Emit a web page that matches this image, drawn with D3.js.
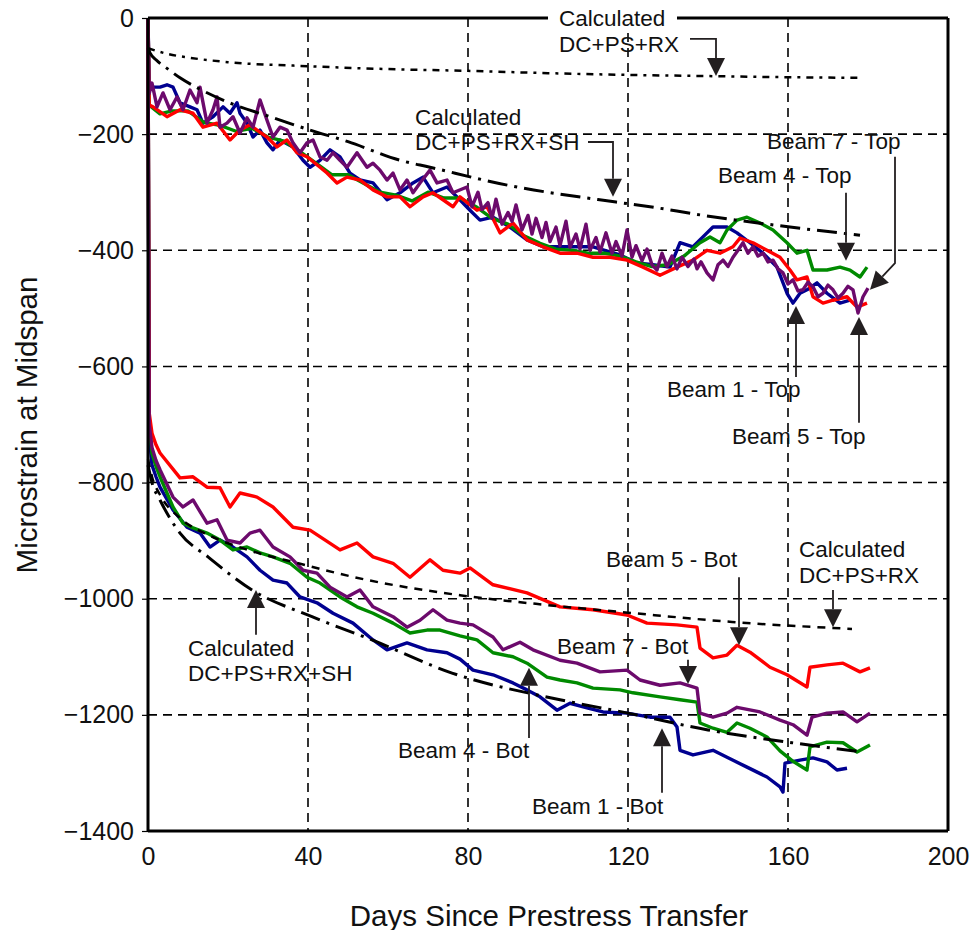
<!DOCTYPE html>
<html><head><meta charset="utf-8">
<script src="https://cdn.jsdelivr.net/npm/d3@7"></script>
<style>body{margin:0;background:#fff}svg{display:block}text{font-family:"Liberation Sans",Arial,sans-serif;fill:#111}</style>
</head><body><svg id="c" width="977" height="930"></svg>
<script>
// ---------- DATA (day, microstrain) ----------
const xTicks = [0, 40, 80, 120, 160, 200];
const yTicks = [0, -200, -400, -600, -800, -1000, -1200, -1400];

const beam1Top = [[0,0],[0.3,-125],[1.25,-119],[3,-119],[4.75,-115],[6.25,-119],[8,-146],[10.5,-153],[12.25,-158],[13.75,-181],[16.25,-170],[18.75,-153],[20.5,-164],[22.25,-146],[23,-164],[24.75,-181],[26.25,-205],[28,-193],[29.75,-215],[31.25,-227],[33,-210],[36.25,-222],[38.75,-245],[40.5,-257],[43,-245],[45.5,-227],[48,-239],[50.5,-267],[53,-279],[56.25,-284],[59.75,-313],[63,-301],[66.25,-284],[68.75,-274],[71.25,-301],[74.75,-291],[77.25,-308],[80.5,-331],[83,-348],[86.25,-343],[90.5,-360],[94.75,-382],[98.75,-394],[103,-394],[107.25,-394],[111.25,-394],[118,-408],[122.25,-422],[126.25,-425],[130.5,-429],[133,-387],[136.25,-394],[139.75,-370],[141.25,-360],[144.75,-360],[147.25,-370],[150.5,-387],[153.75,-405],[157.25,-429],[159.75,-474],[161.25,-491],[163,-474],[164.75,-468],[167.25,-456],[169.75,-474],[173,-491],[175.5,-486]];
const beam4Top = [[0,0],[0.3,-150],[3,-165],[6,-160],[10,-160],[14,-180],[18,-185],[22,-195],[26,-190],[30,-205],[34,-212],[38,-230],[42,-250],[46,-270],[50,-270],[54,-285],[58,-300],[62,-305],[66,-315],[70,-300],[74,-310],[78,-310],[82,-325],[86,-345],[90,-355],[94,-375],[98,-388],[102,-398],[106,-400],[110,-405],[114,-405],[118,-410],[122,-420],[126,-428],[130,-425],[134,-410],[138,-387],[140.5,-377],[143,-387],[144.75,-365],[147.25,-348],[149.75,-343],[153,-353],[156.25,-365],[159.75,-387],[162.25,-405],[164.75,-400],[166.25,-434],[169.75,-434],[173,-429],[175.5,-434],[178,-446],[179.75,-429]];
const beam5Top = [[0,0],[0.3,-150],[1.25,-153],[4.75,-170],[8,-158],[11.25,-164],[13.75,-188],[17.25,-181],[20.5,-210],[23,-193],[25.5,-184],[27.25,-193],[29.75,-205],[32.25,-222],[34.75,-210],[37.25,-232],[39.75,-239],[43,-257],[44.75,-267],[47.25,-284],[49.75,-274],[53,-279],[56.25,-296],[59.75,-308],[63,-308],[65.5,-325],[68.75,-308],[71.25,-301],[73.75,-313],[76.25,-325],[78,-308],[82.25,-331],[84.75,-325],[88,-370],[91.25,-353],[94.75,-382],[98.75,-394],[103,-405],[107.25,-405],[111.25,-412],[115.5,-412],[119.75,-417],[123.75,-429],[128,-443],[132.25,-429],[136.25,-417],[139.75,-400],[143,-405],[146.25,-394],[148,-379],[151.25,-387],[154.75,-400],[158,-412],[160.5,-434],[162.25,-451],[164.75,-446],[166.25,-480],[168.75,-491],[171.25,-486],[174.75,-480],[177.25,-498],[179.75,-491]];
const beam7Top = [[0,0],[0.3,-130],[1,-112],[2.25,-153],[3.75,-129],[5.5,-158],[7.25,-136],[8.75,-158],[10.5,-124],[12.25,-146],[13,-119],[14.75,-181],[16.25,-158],[17.25,-136],[18,-188],[19.75,-181],[21.25,-170],[23,-198],[24.75,-172],[26.25,-188],[28,-141],[29.75,-176],[31.25,-205],[33,-188],[34.75,-193],[36.25,-215],[38,-232],[39.75,-215],[41.25,-210],[43,-239],[44.75,-245],[46.25,-232],[48,-245],[49.75,-257],[52.25,-232],[54.75,-257],[56.25,-250],[58,-262],[59.75,-279],[61.25,-267],[63,-296],[64.75,-279],[66.25,-301],[68,-284],[70.5,-262],[72.25,-284],[74.75,-279],[76.25,-301],[79.75,-291],[81,-325],[82.5,-300],[83.5,-330],[85,-318],[86,-345],[87,-312],[88.5,-355],[90,-335],[91,-350],[92,-322],[93.5,-365],[95,-340],[96,-372],[97,-345],[98.5,-378],[99.5,-352],[100.5,-385],[102,-360],[103,-392],[104.5,-350],[105.5,-395],[107,-372],[108,-398],[109.5,-355],[110.5,-400],[112,-378],[113,-403],[114.5,-370],[116,-405],[117,-385],[118.5,-410],[119.75,-365],[121,-412],[122,-392],[123.5,-418],[124.75,-398],[126,-425],[127.25,-434],[128.5,-405],[129.75,-428],[131,-410],[132.25,-432],[133.5,-412],[135,-428],[136.5,-415],[137.25,-432],[138.25,-420],[139.75,-439],[141.25,-451],[142.5,-425],[143.75,-417],[145,-428],[146.25,-412],[147.5,-400],[148.75,-387],[150,-405],[151.25,-394],[152.5,-410],[153.75,-405],[155,-420],[156.25,-417],[157.5,-432],[158.75,-439],[160,-458],[161.25,-451],[162.5,-470],[163.75,-468],[165,-455],[166.25,-463],[167.5,-480],[168.75,-474],[170,-460],[171.25,-468],[172.5,-482],[173.75,-474],[175,-462],[176.25,-468],[177.5,-508],[178.75,-480],[180,-465]];

const beam1Bot = [[0,0],[0.3,-720],[1,-770],[2,-790],[3,-808],[6.25,-847],[9.75,-877],[13,-887],[15.5,-911],[18,-899],[21.25,-911],[24.75,-928],[28,-951],[31.25,-968],[34.75,-973],[38,-997],[42.25,-1007],[46.25,-1025],[51.25,-1042],[56.25,-1071],[59.75,-1088],[64.75,-1076],[69.75,-1088],[74.75,-1093],[78,-1104],[81.25,-1123],[86.25,-1131],[91.25,-1145],[94.75,-1157],[98,-1169],[102.25,-1192],[105.5,-1180],[109.75,-1188],[113.75,-1195],[119.75,-1197],[125.5,-1204],[130.5,-1204],[132.25,-1221],[133,-1261],[136.25,-1269],[141.25,-1261],[144.75,-1273],[149.75,-1290],[154.75,-1307],[158,-1324],[158.75,-1333],[159.25,-1283],[163,-1278],[166.25,-1274],[169.75,-1281],[172.25,-1295],[174.75,-1292]];
const beam4Bot = [[0,0],[0.3,-700],[1,-750],[2,-772],[3,-790],[6.25,-842],[8.75,-870],[11.25,-878],[14.75,-887],[18,-899],[21.25,-916],[24.75,-911],[28,-921],[31.25,-928],[35.5,-939],[39.75,-963],[43,-973],[48,-997],[52.25,-1014],[56.25,-1025],[61.25,-1042],[65.5,-1059],[69.75,-1054],[73,-1054],[78,-1064],[82.25,-1071],[86.25,-1093],[91.25,-1100],[94.75,-1111],[99.75,-1135],[103,-1140],[107.25,-1145],[111.25,-1154],[118,-1157],[121.25,-1162],[128,-1169],[133,-1174],[137.25,-1178],[138,-1214],[141.25,-1223],[144.75,-1230],[147.25,-1214],[150.5,-1223],[154.75,-1238],[158,-1262],[161.25,-1280],[164.75,-1295],[165.5,-1255],[169.75,-1247],[173.75,-1248],[177.25,-1264],[180.5,-1252]];
const beam5Bot = [[0,0],[0.3,-680],[1,-715],[2,-735],[3,-749],[8,-792],[11.25,-790],[14.75,-808],[18,-809],[20.5,-842],[23,-818],[27.25,-825],[31.25,-842],[36.25,-877],[40.5,-882],[48,-916],[52.25,-904],[56.25,-928],[61.25,-939],[65.5,-963],[70.5,-933],[73.75,-951],[78,-956],[80.5,-947],[86.25,-976],[94.75,-990],[103,-1014],[111.25,-1019],[119.75,-1028],[124.75,-1042],[132.25,-1045],[137.25,-1049],[138,-1085],[141.25,-1102],[144.75,-1097],[147.25,-1080],[150.5,-1092],[155.5,-1118],[159.75,-1131],[164.75,-1152],[165.5,-1118],[169.75,-1114],[173.75,-1111],[178,-1126],[180.5,-1119]];
const beam7Bot = [[0,0],[0.3,-700],[1,-740],[2,-762],[3,-778],[6.25,-825],[8.75,-842],[11.25,-830],[14.75,-870],[17.25,-864],[19.75,-899],[23,-904],[25.5,-887],[28,-882],[31.25,-911],[35.5,-928],[38.75,-951],[42.25,-956],[45.5,-980],[49.75,-997],[53,-985],[56.25,-1014],[61.25,-1031],[64.75,-1049],[68,-1037],[71.25,-1019],[74.75,-1037],[78,-1042],[81.25,-1045],[86.25,-1066],[88.75,-1088],[93,-1075],[96.25,-1088],[103,-1106],[107.25,-1111],[113,-1126],[119.75,-1123],[123,-1140],[128,-1149],[133,-1145],[137.25,-1154],[138,-1197],[141.25,-1204],[144.75,-1197],[147.25,-1187],[153,-1195],[158,-1209],[161.25,-1217],[164.75,-1235],[166,-1204],[169.75,-1197],[173.75,-1195],[177.25,-1212],[180.5,-1197]];

const calcTopRX = [[0,-52],[5,-62],[10,-68],[20,-76],[40,-83],[60,-88],[80,-91],[100,-95],[120,-98],[140,-100],[160,-102],[177.5,-103]];
const calcTopSH = [[0,-52],[0.5,-60],[2,-72],[5,-88],[8,-103],[12,-119],[20,-145],[30.5,-170],[40.5,-193],[50,-213],[63,-245],[70.5,-257],[90,-288],[117,-317],[125.5,-325],[138,-339],[160.5,-360],[178,-374]];
const calcBotRX = [[0,-760],[1,-790],[3,-821],[8,-861],[15,-890],[25,-916],[37,-938],[55,-968],[78,-994],[100,-1011],[120,-1024],[146,-1040],[176,-1052]];
const calcBotSH = [[0,-770],[1,-800],[3,-830],[8,-887],[15,-928],[26,-985],[41,-1031],[56,-1071],[76,-1128],[103,-1174],[120,-1197],[140,-1226],[161,-1248],[178.5,-1264]];

// annotations: label lines, text anchor (day, value), connector path (day, value)
const annotations = [
  {lines:["Calculated","DC+PS+RX"], at:[102.75,-1.7], path:[[135.5,-36],[142,-36],[142,-100]], bg:true},
  {lines:["Calculated","DC+PS+RX+SH"], at:[66.75,-170.5], path:[[110,-213.5],[116.25,-213.5],[116.25,-308]]},
  {lines:["Beam 7 - Top"], at:[154.75,-212], path:[[186.75,-239],[186.75,-422],[180.5,-468]]},
  {lines:["Beam 4 - Top"], at:[142.5,-272], path:[[174.5,-301],[174.5,-418]]},
  {lines:["Beam 1 - Top"], at:[129.75,-639], path:[[162,-618],[162,-496]]},
  {lines:["Beam 5 - Top"], at:[146,-721.5], path:[[177.75,-697],[177.75,-515]]},
  {lines:["Calculated","DC+PS+RX"], at:[162.75,-916], path:[[171.25,-985],[171.25,-1049]]},
  {lines:["Beam 5 - Bot"], at:[114.5,-933], path:[[147.75,-963],[147.75,-1080]]},
  {lines:["Beam 7 - Bot"], at:[102.25,-1083], path:[[135,-1105],[135,-1147]]},
  {lines:["Beam 4 - Bot"], at:[62.5,-1262], path:[[95.25,-1240],[95.25,-1119]]},
  {lines:["Beam 1 - Bot"], at:[96,-1357], path:[[128.5,-1334],[128.5,-1223]]},
  {lines:["Calculated","DC+PS+RX+SH"], at:[10,-1085], path:[[27,-1062],[27,-985]]}
];

// ---------- DRAW ----------
const svg = d3.select("#c");
const x = d3.scaleLinear().domain([0,200]).range([148,948]);
const y = d3.scaleLinear().domain([0,-1400]).range([18,831]);
const line = d3.line().x(d=>x(d[0])).y(d=>y(d[1]));

// grid
const grid = svg.append("g").attr("stroke","#000").attr("stroke-width",1.6).attr("stroke-dasharray","9,6");
yTicks.filter(v=>v!==0 && v!==-1400).forEach(v=>grid.append("line").attr("x1",x(0)).attr("x2",x(200)).attr("y1",y(v)).attr("y2",y(v)));
xTicks.filter(v=>v!==0 && v!==200).forEach(v=>grid.append("line").attr("x1",x(v)).attr("x2",x(v)).attr("y1",y(0)).attr("y2",y(-1400)));

// beam series
const series = [
  [beam1Top,"#000090"],[beam4Top,"#008a00"],[beam5Top,"#ff0000"],[beam7Top,"#6c0a6c"],
  [beam1Bot,"#000090"],[beam4Bot,"#008a00"],[beam5Bot,"#ff0000"],[beam7Bot,"#6c0a6c"]
];
series.forEach(([d,c])=>svg.append("path").datum(d).attr("d",line).attr("fill","none")
  .attr("stroke",c).attr("stroke-width",3.4).attr("stroke-linejoin","round"));

// calculated lines
[[calcTopRX,"7,6,3,6",2.5],[calcTopSH,"20,7,3,7",3],[calcBotRX,"8,7",2.5],[calcBotSH,"20,7,3,7",3]]
 .forEach(([d,dash,w])=>svg.append("path").datum(d).attr("d",d3.line().curve(d3.curveMonotoneX).x(p=>x(p[0])).y(p=>y(p[1])))
   .attr("fill","none").attr("stroke","#000").attr("stroke-width",w).attr("stroke-dasharray",dash));

// frame
const frame = svg.append("g").attr("stroke","#000").attr("stroke-width",3);
frame.append("line").attr("x1",x(0)).attr("x2",x(200)).attr("y1",y(0)).attr("y2",y(0));
frame.append("line").attr("x1",x(0)).attr("x2",x(200)).attr("y1",y(-1400)).attr("y2",y(-1400));
frame.append("line").attr("x1",x(0)).attr("x2",x(0)).attr("y1",y(0)).attr("y2",y(-1400));
frame.append("line").attr("x1",x(200)).attr("x2",x(200)).attr("y1",y(0)).attr("y2",y(-1400));

// axes
const yAxis = svg.append("g").attr("transform",`translate(${x(0)},0)`)
  .call(d3.axisLeft(y).tickValues(yTicks).tickSize(6).tickPadding(8).tickFormat(d3.format("d")));
yAxis.select(".domain").remove();
yAxis.selectAll("line").attr("stroke","#000").attr("stroke-width",1.2);
yAxis.selectAll("text").attr("font-size",25).attr("font-family","Liberation Sans, Arial").attr("fill","#111");
const xAxis = svg.append("g").attr("transform",`translate(0,${y(-1400)})`)
  .call(d3.axisBottom(x).tickValues(xTicks).tickSize(0).tickPadding(16));
xAxis.select(".domain").remove();
xAxis.selectAll("text").attr("font-size",25).attr("font-family","Liberation Sans, Arial").attr("fill","#111");

svg.append("text").attr("x",549).attr("y",915).attr("text-anchor","middle").attr("dominant-baseline","central")
  .attr("font-size",29.5).text("Days Since Prestress Transfer");
svg.append("text").attr("transform","translate(26,425) rotate(-90)").attr("text-anchor","middle").attr("dominant-baseline","central")
  .attr("font-size",29.5).text("Microstrain at Midspan");

// annotations
const ag = svg.append("g");
annotations.forEach(a=>{
  const tx = x(a.at[0]), ty = y(a.at[1]);
  if(a.bg){ ag.append("rect").attr("x",tx-11).attr("y",ty-13).attr("width",129).attr("height",26).attr("fill","#fff"); }
  a.lines.forEach((s,i)=>ag.append("text").attr("x",tx).attr("y",ty+i*25.5).attr("dominant-baseline","central")
     .attr("font-size",22.5).text(s));
  const pts = a.path.map(p=>[x(p[0]),y(p[1])]);
  const n = pts.length, tip = pts[n-1], prev = pts[n-2];
  const ang = Math.atan2(tip[1]-prev[1], tip[0]-prev[0]);
  const L = 18, W = 9;
  const base = [tip[0]-L*Math.cos(ang), tip[1]-L*Math.sin(ang)];
  const shaft = pts.slice(0,n-1).concat([base]);
  ag.append("path").attr("d",d3.line()(shaft)).attr("fill","none").attr("stroke","#231f20").attr("stroke-width",1.8);
  const p1 = [base[0]+W*Math.sin(ang), base[1]-W*Math.cos(ang)];
  const p2 = [base[0]-W*Math.sin(ang), base[1]+W*Math.cos(ang)];
  ag.append("path").attr("d",`M${tip[0]},${tip[1]}L${p1[0]},${p1[1]}L${p2[0]},${p2[1]}Z`).attr("fill","#231f20");
});
</script></body></html>
